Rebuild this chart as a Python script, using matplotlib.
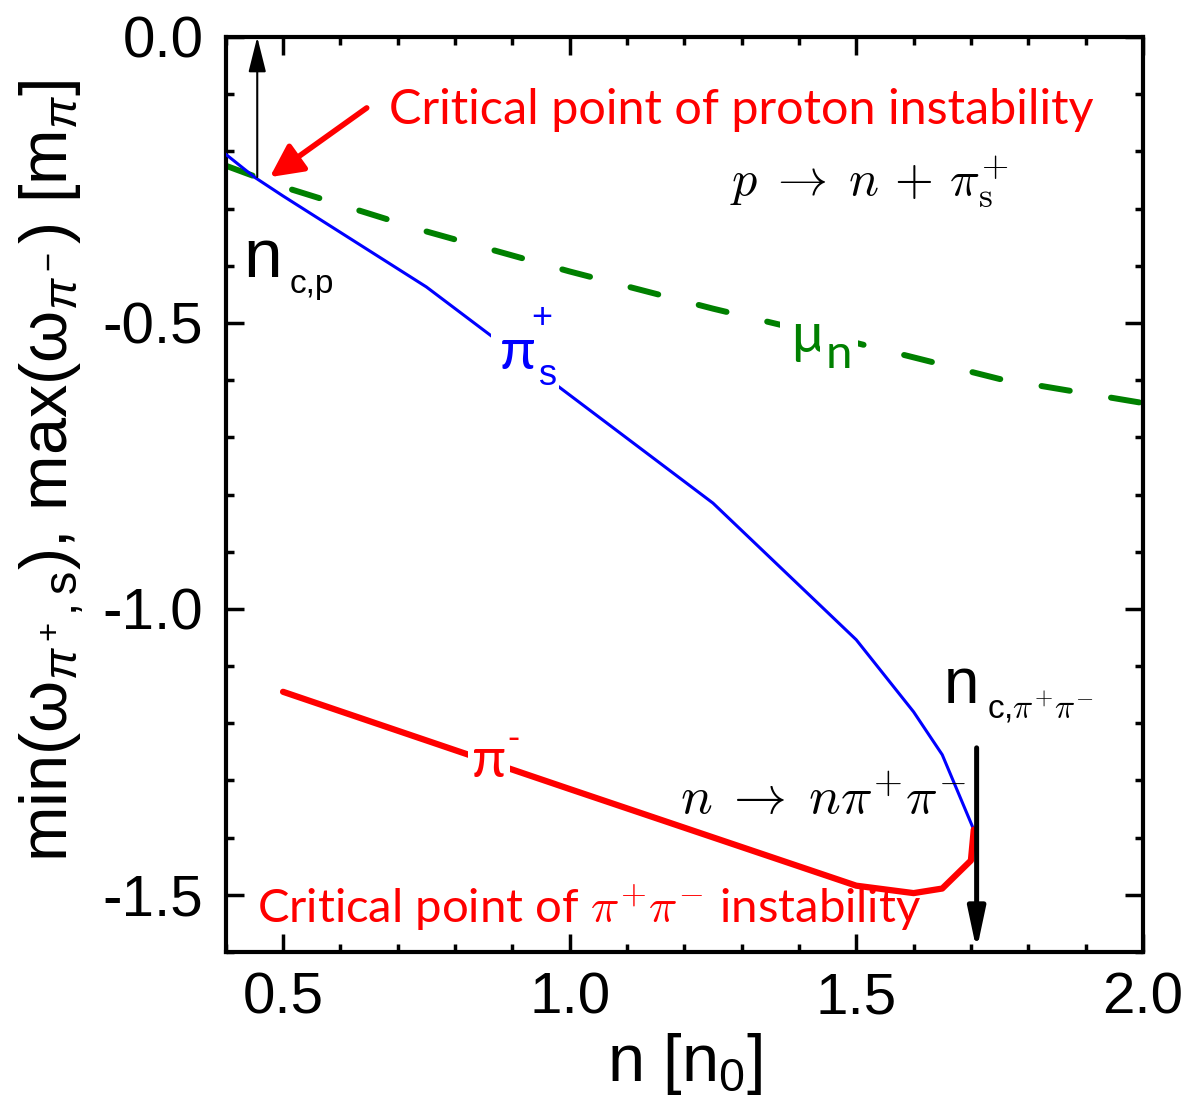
import matplotlib
matplotlib.use("Agg")
import matplotlib.pyplot as plt
from matplotlib.ticker import MultipleLocator, FixedLocator, FixedFormatter

plt.rcParams['mathtext.fontset'] = 'custom'
plt.rcParams['mathtext.rm'] = 'Liberation Sans'
plt.rcParams['mathtext.it'] = 'Liberation Sans:italic'
plt.rcParams['mathtext.sf'] = 'Liberation Sans'
plt.rcParams['font.family'] = ['Liberation Sans', 'DejaVu Sans']

# ---- data ----
n_pis = [0.4, 0.45, 0.5, 0.75, 1.0, 1.25, 1.5, 1.6, 1.65, 1.705]
w_pis = [-0.205, -0.245, -0.278, -0.437, -0.626, -0.815, -1.054, -1.18, -1.255, -1.386]

n_pim = [0.5, 1.0, 1.5, 1.6, 1.65, 1.70, 1.705]
w_pim = [-1.145, -1.315, -1.484, -1.497, -1.489, -1.44, -1.386]

n_mu = [0.4, 0.5, 0.75, 1.0, 1.25, 1.5, 1.75, 2.0]
mu_n = [-0.225, -0.262, -0.34, -0.41, -0.475, -0.535, -0.598, -0.64]

n_cp = 0.455
w_cp = -0.245
n_cpipi = 1.71

xticks = [0.5, 1.0, 1.5, 2.0]
xticklabels = ["0.5", "1.0", "1.5", "2.0"]
yticks = [0.0, -0.5, -1.0, -1.5]
yticklabels = ["0.0", "-0.5", "-1.0", "-1.5"]

LATO = ['Lato', 'DejaVu Sans']

fig = plt.figure(figsize=(11.88, 11.11), dpi=100)
ax = fig.add_axes([0.190, 0.1431, 0.772, 0.8236])

ax.plot(n_mu, mu_n, color='green', lw=4.3, dashes=(4.8, 7.0),
        dash_capstyle='round', zorder=2)
ax.plot(n_pis, w_pis, color='blue', lw=2.2, zorder=3)
ax.plot(n_pim, w_pim, color='red', lw=4.5, solid_capstyle='round', zorder=3)

ax.set_xlim(0.4, 2.0)
ax.set_ylim(-1.6, 0.0)
ax.xaxis.set_major_locator(FixedLocator(xticks))
ax.xaxis.set_major_formatter(FixedFormatter(xticklabels))
ax.yaxis.set_major_locator(FixedLocator(yticks))
ax.yaxis.set_major_formatter(FixedFormatter(yticklabels))
ax.xaxis.set_minor_locator(MultipleLocator(0.1))
ax.yaxis.set_minor_locator(MultipleLocator(0.1))
ax.tick_params(which='both', direction='in', top=True, right=True, width=2.5)
ax.tick_params(which='major', length=13, labelsize=42)
ax.tick_params(which='minor', length=6)
ax.tick_params(axis='x', which='major', pad=14)
ax.tick_params(axis='y', which='major', pad=16)
for s in ax.spines.values():
    s.set_linewidth(3.0)

ax.set_xlabel(r"n [n$_0$]", fontsize=48, labelpad=4)
ax.set_ylabel(r"min(ω$_{\pi^+,\mathrm{s}}$), max(ω$_{\pi^-}$) [m$_\pi$]",
              fontsize=48)
ax.yaxis.set_label_coords(-0.152, 0.526)

# arrows
ax.annotate('', xy=(n_cp, 0.0), xytext=(n_cp, w_cp),
            arrowprops=dict(arrowstyle='-|>,head_length=0.8,head_width=0.2',
                            mutation_scale=27, lw=1.5, color='black',
                            shrinkA=0, shrinkB=0), annotation_clip=False)
ax.annotate('', xy=(n_cpipi, -1.597), xytext=(n_cpipi, -1.243),
            arrowprops=dict(arrowstyle='-|>,head_length=0.8,head_width=0.17',
                            mutation_scale=31, lw=3.6, color='black',
                            shrinkA=0, shrinkB=0), annotation_clip=False)
ax.annotate('', xy=(0.477, -0.245), xytext=(0.646, -0.124),
            arrowprops=dict(arrowstyle='-|>,head_length=0.9,head_width=0.45',
                            mutation_scale=22, lw=4, color='red',
                            shrinkA=0, shrinkB=0))

# texts
ax.text(0.684, -0.128, "Critical point of proton instability", color='red',
        family=LATO, fontsize=35, va='center', ha='left')
ax.text(1.28, -0.276, r"$p\;\rightarrow\;n\,+\,\pi_{\rm s}^{+}$", color='black',
        fontsize=36, math_fontfamily='cm', va='baseline', ha='left')
ax.text(0.43, -0.42, "n", fontsize=50, va='baseline', ha='left')
ax.text(0.512, -0.448, "c,p", fontsize=24, va='baseline', ha='left')

# pi_s^+ label (white box hides the line behind it)
ax.text(0.909, -0.58, "π", color='blue', fontsize=42, family=LATO,
        va='baseline', ha='center',
        bbox=dict(facecolor='white', edgecolor='none', pad=6), zorder=4)
ax.text(0.933, -0.509, "+", color='blue', fontsize=26, va='baseline', ha='left', zorder=5)
ax.text(0.947, -0.608, "s", color='blue', fontsize=26, va='baseline', ha='left',
        bbox=dict(facecolor='white', edgecolor='none', pad=1), zorder=5)

# mu_n label
ax.text(1.386, -0.551, "μ", color='green', fontsize=40, family=LATO,
        va='baseline', ha='left',
        bbox=dict(facecolor='white', edgecolor='none', pad=8), zorder=4)
ax.text(1.447, -0.579, "n", color='green', fontsize=34, family=LATO,
        va='baseline', ha='left',
        bbox=dict(facecolor='white', edgecolor='none', pad=4), zorder=5)

ax.text(1.653, -1.164, "n", fontsize=46, va='baseline', ha='left')
ax.text(1.728, -1.192, r"c,$\pi^{+}\pi^{-}$", fontsize=24, math_fontfamily='cm',
        va='baseline', ha='left')

# pi^- label
ax.text(0.86, -1.294, "π", color='red', fontsize=40, family=LATO,
        va='baseline', ha='center',
        bbox=dict(facecolor='white', edgecolor='none', pad=3), zorder=4)
ax.text(0.891, -1.243, "-", color='red', fontsize=26, va='baseline', ha='left', zorder=5)

ax.text(1.193, -1.36, r"$n\;\rightarrow\;n\pi^{+}\pi^{-}$", fontsize=38,
        math_fontfamily='cm', va='baseline', ha='left', zorder=5)

ax.text(0.455, -1.523, r"Critical point of $\pi^{+}\pi^{-}$ instability", color='red',
        family=LATO, math_fontfamily='cm', fontsize=34,
        va='center', ha='left', zorder=5)

fig.savefig("out.png", dpi=100)
